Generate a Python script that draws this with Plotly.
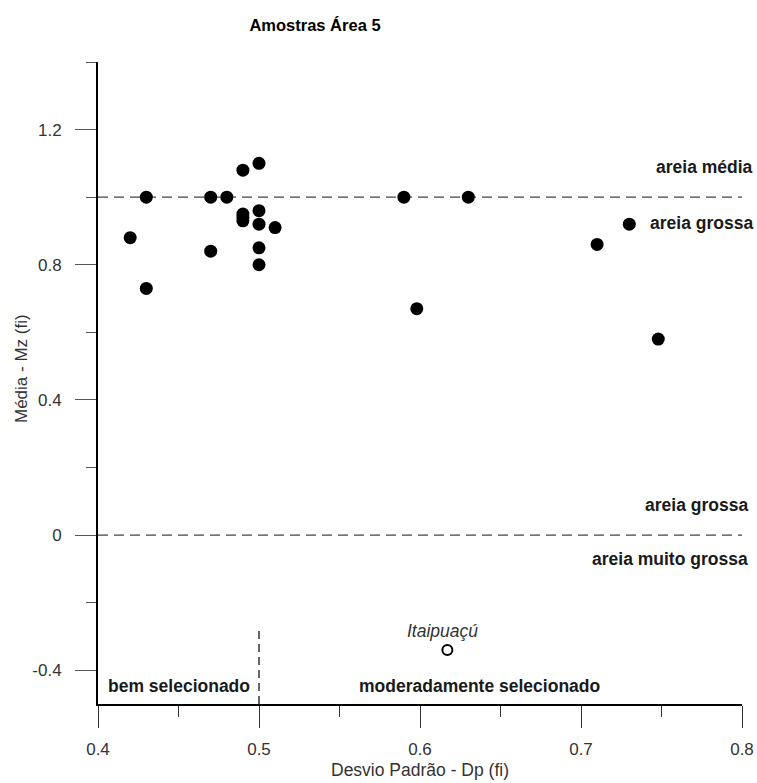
import plotly.graph_objects as go

# Sample data: Desvio Padrão (Dp) vs Média (Mz)
dp_values = [0.43, 0.42, 0.43, 0.47, 0.48, 0.47, 0.49, 0.50, 0.49, 0.49, 0.49,
             0.50, 0.50, 0.51, 0.50, 0.50, 0.59, 0.63, 0.73, 0.71, 0.598, 0.748]
mz_values = [1.00, 0.88, 0.73, 1.00, 1.00, 0.84, 1.08, 1.10, 0.95, 0.94, 0.93,
             0.96, 0.92, 0.91, 0.85, 0.80, 1.00, 1.00, 0.92, 0.86, 0.67, 0.58]

# Reference sample (open circle)
ref_dp = [0.617]
ref_mz = [-0.34]
ref_label = "Itaipuaçú"

# Class boundaries
mz_boundaries = [1.0, 0.0]          # horizontal dashed lines
dp_boundary = 0.5                   # vertical dashed line
dp_boundary_top = -0.27

x_range = [0.4, 0.8]
y_range = [-0.5, 1.4]
x_ticks = [0.4, 0.5, 0.6, 0.7, 0.8]
y_ticks = [-0.4, 0.0, 0.4, 0.8, 1.2]
y_ticklabels = ["-0.4", "0", "0.4", "0.8", "1.2"]

FONT = "Liberation Sans, Arial, sans-serif"

fig = go.Figure()

fig.add_trace(go.Scatter(
    x=dp_values, y=mz_values, mode="markers",
    marker=dict(color="black", size=13, line=dict(width=0)),
    cliponaxis=False, showlegend=False, hoverinfo="x+y"))

fig.add_trace(go.Scatter(
    x=ref_dp, y=ref_mz, mode="markers",
    marker=dict(color="white", size=10, line=dict(color="black", width=2)),
    cliponaxis=False, showlegend=False))

for yv in mz_boundaries:
    fig.add_shape(type="line", xref="x", yref="y", x0=x_range[0], x1=x_range[1],
                  y0=yv, y1=yv, line=dict(color="#444", width=1.2, dash="10px,6px"),
                  layer="below")

fig.add_shape(type="line", xref="x", yref="y", x0=dp_boundary, x1=dp_boundary,
              y0=y_range[0], y1=dp_boundary_top,
              line=dict(color="black", width=1.2, dash="8px,5px"), layer="below")

bold = dict(family=FONT, size=17.5, color="#1a1a1a")
annots = [
    dict(text="<b>areia média</b>", x=1.0195, y=1.09),
    dict(text="<b>areia grossa</b>", x=1.0195, y=0.925),
    dict(text="<b>areia grossa</b>", x=1.0125, y=0.09),
    dict(text="<b>areia muito grossa</b>", x=1.0125, y=-0.07),
]
for a in annots:
    fig.add_annotation(text=a["text"], xref="paper", yref="y", x=a["x"], y=a["y"],
                       xanchor="right", yanchor="middle", showarrow=False, font=bold)

fig.add_annotation(text="<b>bem selecionado</b>", xref="x", yref="y", x=0.405, y=-0.448,
                   xanchor="left", yanchor="middle", showarrow=False, font=bold)
fig.add_annotation(text="<b>moderadamente selecionado</b>", xref="x", yref="y", x=0.637,
                   y=-0.448, xanchor="center", yanchor="middle", showarrow=False, font=bold)
fig.add_annotation(text="<i>" + ref_label + "</i>", xref="x", yref="y", x=0.614,
                   y=ref_mz[0] + 0.057, xanchor="center", yanchor="middle", showarrow=False,
                   font=dict(family=FONT, size=17.5, color="#333"))

# axis titles placed as annotations to match the reference positions
fig.add_annotation(text="Média - Mz (fi)", xref="paper", yref="paper",
                   x=(21 - 98) / 644, y=(704 - 369) / 642, textangle=-90,
                   xanchor="center", yanchor="middle", showarrow=False,
                   font=dict(family=FONT, size=17, color="#333"))
fig.add_annotation(text="Desvio Padrão - Dp (fi)", xref="paper", yref="paper",
                   x=0.5, y=(704 - 770) / 642,
                   xanchor="center", yanchor="middle", showarrow=False,
                   font=dict(family=FONT, size=17.5, color="#333"))

fig.update_layout(
    width=757, height=783,
    margin=dict(l=98, r=15, t=62, b=79, autoexpand=False),
    paper_bgcolor="white", plot_bgcolor="white",
    title=dict(text="<b>Amostras Área 5</b>", x=315/757, xanchor="center",
               y=1 - 25/783, yanchor="middle",
               font=dict(family=FONT, size=16.5, color="black")),
    font=dict(family=FONT, size=17, color="#333"),
    showlegend=False,
)

fig.update_xaxes(
    automargin=False,
    range=x_range, tickvals=x_ticks, ticktext=[f"{v:.1f}" for v in x_ticks],
    showgrid=False, zeroline=False,
    showline=True, linecolor="black", linewidth=2,
    ticks="outside", ticklen=22, tickwidth=1.2, tickcolor="#333",
    ticklabelstandoff=7,
    minor=dict(dtick=0.05, tick0=0.4, ticklen=11, tickwidth=1.2, tickcolor="#333",
               ticks="outside", showgrid=False),
    tickfont=dict(family=FONT, size=17, color="#333"),
)
fig.update_yaxes(
    automargin=False,
    range=y_range, tickvals=y_ticks, ticktext=y_ticklabels,
    showgrid=False, zeroline=False,
    showline=True, linecolor="black", linewidth=2,
    ticks="outside", ticklen=21, tickwidth=1.2, tickcolor="#555",
    ticklabelstandoff=10,
    minor=dict(dtick=0.2, tick0=0, ticklen=10, tickwidth=1.2, tickcolor="#555",
               ticks="outside", showgrid=False),
    tickfont=dict(family=FONT, size=17, color="#333"),
)

fig.write_html("out.html")
